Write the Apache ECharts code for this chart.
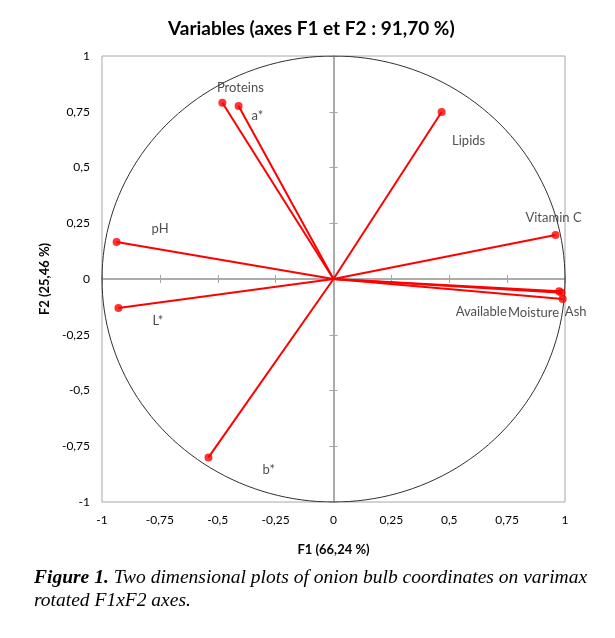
<!DOCTYPE html>
<html>
<head>
<meta charset="utf-8">
<script src="https://cdn.jsdelivr.net/npm/echarts@6/dist/echarts.min.js"></script>
<style>
html,body{margin:0;padding:0;background:#fff;}
#chart{width:615px;height:638px;}
</style>
</head>
<body>
<div id="chart"></div>
<script>
// ---- data ----
const varNames = ['Proteins', 'a*', 'Lipids', 'Vitamin C', 'pH', 'L*', 'b*', 'Available', 'Moisture', 'Ash'];
const f1Values = [-0.48, -0.41, 0.467, 0.959, -0.937, -0.929, -0.54, 0.975, 0.985, 0.99];
const f2Values = [0.79, 0.776, 0.749, 0.197, 0.166, -0.13, -0.80, -0.055, -0.062, -0.09];
const axisTicks = [-1, -0.75, -0.5, -0.25, 0, 0.25, 0.5, 0.75, 1];
const titleText = 'Variables (axes F1 et F2 : 91,70 %)';
const xName = 'F1 (66,24 %)';
const yName = 'F2 (25,46 %)';
const unitRadius = 1;

// ---- style ----
const labelOffsets = [[18, 0], [4, 10], [27, 13], [-2, -2], [26, -13], [25, 13], [45, 12], [-78, 5], [-28, 4], [13, -3]];
const labelPositions = ['top', 'right', 'bottom', 'top', 'right', 'right', 'right', 'bottom', 'bottom', 'bottom'];
const FONT = 'Lato';
const fmt = v => String(v).replace('.', ',');

// correlation circle
const circleData = [];
for (let a = 0; a <= 360; a += 2) {
  const r = a * Math.PI / 180;
  circleData.push([unitRadius * Math.cos(r), unitRadius * Math.sin(r)]);
}

const minV = axisTicks[0], maxV = axisTicks[axisTicks.length - 1], step = axisTicks[1] - axisTicks[0];

function mkAxis(isX, kind) {
  const base = {type: 'value', min: minV, max: maxV, interval: step, splitLine: {show: false}};
  if (kind === 'label') {
    return Object.assign(base, {
      position: isX ? 'bottom' : 'left',
      axisLine: {show: false, onZero: false},
      axisTick: {show: false},
      axisLabel: {formatter: fmt, margin: 12, color: '#000', fontSize: 12, fontFamily: FONT},
      name: isX ? xName : yName,
      nameLocation: 'middle',
      nameGap: isX ? 41 : 48,
      nameTextStyle: {fontFamily: FONT, fontSize: 13, fontWeight: 'bold', color: '#000'}
    });
  }
  return Object.assign(base, {
    position: kind,
    axisLine: {show: true, onZero: true, onZeroAxisIndex: 0, lineStyle: {color: '#a6a6a6', width: 1.5}},
    axisTick: {show: true, length: 4, lineStyle: {color: '#a6a6a6', width: 1}},
    axisLabel: {show: false}
  });
}

const chart = echarts.init(document.getElementById('chart'), null, {renderer: 'canvas'});
chart.setOption({
  backgroundColor: '#fff',
  animation: false,
  grid: {left: 102, right: 50, top: 56, bottom: 136, show: true, borderColor: '#a6a6a6', borderWidth: 1},
  xAxis: [mkAxis(true, 'label'), mkAxis(true, 'bottom'), mkAxis(true, 'top')],
  yAxis: [mkAxis(false, 'label'), mkAxis(false, 'left'), mkAxis(false, 'right')],
  graphic: [
    {type: 'text', left: 168, top: 19, style: {text: titleText, font: 'bold 19px Lato', fill: '#000'}},
    {type: 'text', left: 34, top: 568, style: {
      text: '{b|Figure 1.}{i| Two dimensional plots of onion bulb coordinates on varimax}\n{i|rotated F1xF2 axes.}',
      rich: {
        b: {fontFamily: 'Liberation Serif', fontStyle: 'italic', fontWeight: 'bold', fontSize: 19.5, lineHeight: 23, fill: '#000'},
        i: {fontFamily: 'Liberation Serif', fontStyle: 'italic', fontSize: 19.5, lineHeight: 23, fill: '#000'}
      }
    }}
  ],
  series: [
    {
      type: 'line', data: circleData, showSymbol: false, silent: true, z: 1,
      lineStyle: {color: '#303030', width: 1}
    },
    {
      type: 'lines', coordinateSystem: 'cartesian2d', z: 3,
      data: f1Values.map((x, i) => ({coords: [[0, 0], [x, f2Values[i]]]})),
      lineStyle: {color: '#ff0000', width: 2, opacity: 1}
    },
    {
      type: 'scatter', z: 4, symbolSize: 8,
      itemStyle: {color: '#ff0000'},
      data: f1Values.map((x, i) => ({
        value: [x, f2Values[i]], name: varNames[i],
        label: {position: labelPositions[i], offset: labelOffsets[i]}
      })),
      label: {show: true, formatter: p => p.name, color: '#222', fontSize: 13, fontFamily: FONT}
    }
  ]
});
</script>
</body>
</html>
